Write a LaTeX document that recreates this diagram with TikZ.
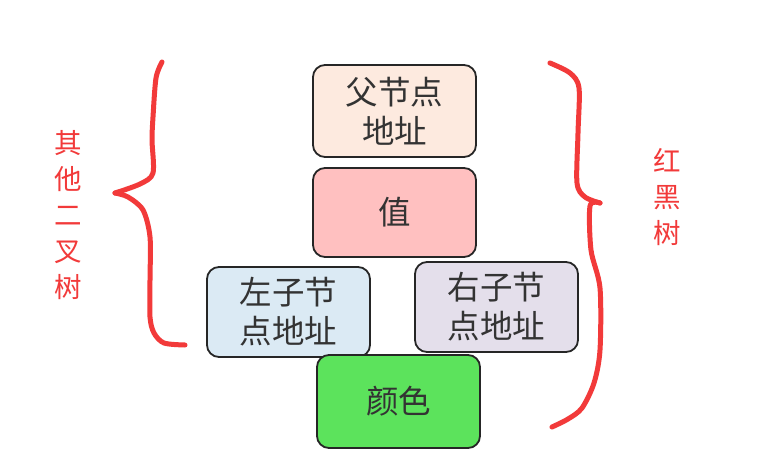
\documentclass[tikz,border=0pt]{standalone}
\usepackage{fontspec}
\setmainfont{Noto Sans CJK SC}
\newfontfamily\cjk{Noto Sans CJK SC}
\definecolor{boxline}{HTML}{262626}
\definecolor{txt}{HTML}{333333}
\definecolor{redpen}{HTML}{F23A3A}
\definecolor{cpeach}{HTML}{FDEADF}
\definecolor{cpink}{HTML}{FFC0C0}
\definecolor{cblue}{HTML}{DBEAF4}
\definecolor{clav}{HTML}{E4DFEB}
\definecolor{cgreen}{HTML}{5CE35C}
\tikzset{
  box/.style={draw=boxline, line width=1.8pt, rounded corners=12pt, align=center,
    text=txt, font=\cjk\fontsize{32.5}{39}\selectfont, inner sep=0pt},
  pen/.style={draw=redpen, line width=5pt, line cap=round, line join=round},
  redtxt/.style={text=redpen, font=\cjk\fontsize{27.5}{36}\selectfont, align=center, inner sep=0pt}
}
\begin{document}
\begin{tikzpicture}[x=1pt,y=-1pt]
\useasboundingbox (0,0) rectangle (779,474);
\fill[white] (0,0) rectangle (779,474);
% boxes
\node[box, fill=cpeach, minimum width=163pt, minimum height=92pt] (parent) at (394.5,111) {父节点\\地址};
\node[box, fill=cpink, minimum width=163pt, minimum height=89pt] (val) at (394.5,212.5) {值};
\node[box, fill=cblue, minimum width=163pt, minimum height=90pt] (left) at (288.5,312) {左子节\\点地址};
\node[box, fill=clav, minimum width=163pt, minimum height=90pt] (right) at (496.5,307) {右子节\\点地址};
\node[box, fill=cgreen, minimum width=163pt, minimum height=93pt] (color) at (398.5,401.5) {颜色};
% left brace
\draw[pen] plot[smooth, tension=0.5] coordinates {(162,62) (156,78) (153,117) (152,140) (153,173) (140,184) (115,193)};
\draw[pen] plot[smooth, tension=0.5] coordinates {(115,193) (128,197) (143,210) (150,237) (150,280) (150,317) (154,333) (164,343) (185,345)};
% right brace
\draw[pen] plot[smooth, tension=0.5] coordinates {(550,63) (570,73) (579,88) (578,133) (577,183) (585,197) (600,203)};
\draw[pen] plot[smooth, tension=0.5] coordinates {(600,203) (590,206) (591,250) (600,288) (600,350) (594,383) (582,408) (568,419) (552,427)};
% labels
\node[redtxt] (lefttxt) at (68,215) {其\\他\\二\\叉\\树};
\node[redtxt] (righttxt) at (667,197) {红\\黑\\树};
\end{tikzpicture}
\end{document}
